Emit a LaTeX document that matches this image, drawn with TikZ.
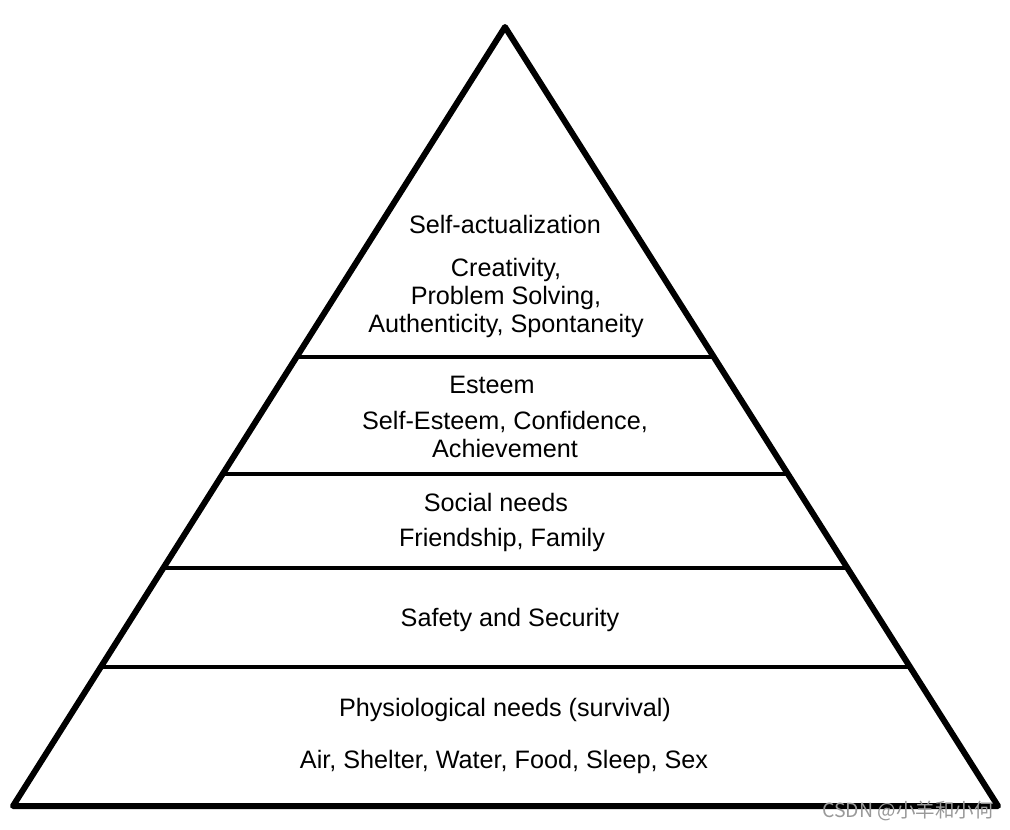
\documentclass[tikz,border=0pt]{standalone}
\usepackage{fontspec}
\setmainfont{Liberation Sans}
\newfontfamily\cjkfont{Noto Sans CJK SC}
\usetikzlibrary{calc}
\tikzset{every node/.style={align=center}, font=\fontsize{25.2}{28}\selectfont,
  outline/.style={line width=6pt, line join=round},
  divider/.style={line width=4pt},
  levtitle/.style={anchor=base, inner sep=0pt},
  levitems/.style={anchor=base, inner sep=0pt}}

\begin{document}
\begin{tikzpicture}[x=1pt, y=-1pt]
            \useasboundingbox (0,0) rectangle (1010,830);
            \coordinate (apex) at (505,27);
            \coordinate (left) at (13,806);
            \coordinate (right) at (998,806);
            \foreach \y in {357,474,568,667}
                \draw [divider] ($(left)!{(806-\y)/779}!(apex)$) -- ($(right)!{(806-\y)/779}!(apex)$);
            \draw [outline] (apex) -- (left) -- (right) -- cycle;
            \node [levtitle] (self) at (505,233) {Self-actualization};
            \node [levitems] (selfitems) at (506,332) {Creativity,\\ Problem Solving,\\ Authenticity, Spontaneity};
            \node [levtitle] (esteem) at (492,393) {Esteem};
            \node [levitems] (esteemitems) at (505,457) {Self-Esteem, Confidence,\\ Achievement};
            \node [levtitle] (social) at (496,511) {Social needs};
            \node [levitems] (socialitems) at (502,546) {Friendship, Family};
            \node [levtitle] (safety) at (510,626) {Safety and Security};
            \node [levtitle] (physio) at (505,716) {Physiological needs (survival)};
            \node [levitems] (physioitems) at (504,768) {Air, Shelter, Water, Food, Sleep, Sex};
            \node [anchor=base east, inner sep=0pt, text=gray!80, font=\cjkfont\fontsize{19.5}{22}\selectfont] (mark) at (994,817) {CSDN @小羊和小何};
        \end{tikzpicture}
\end{document}
